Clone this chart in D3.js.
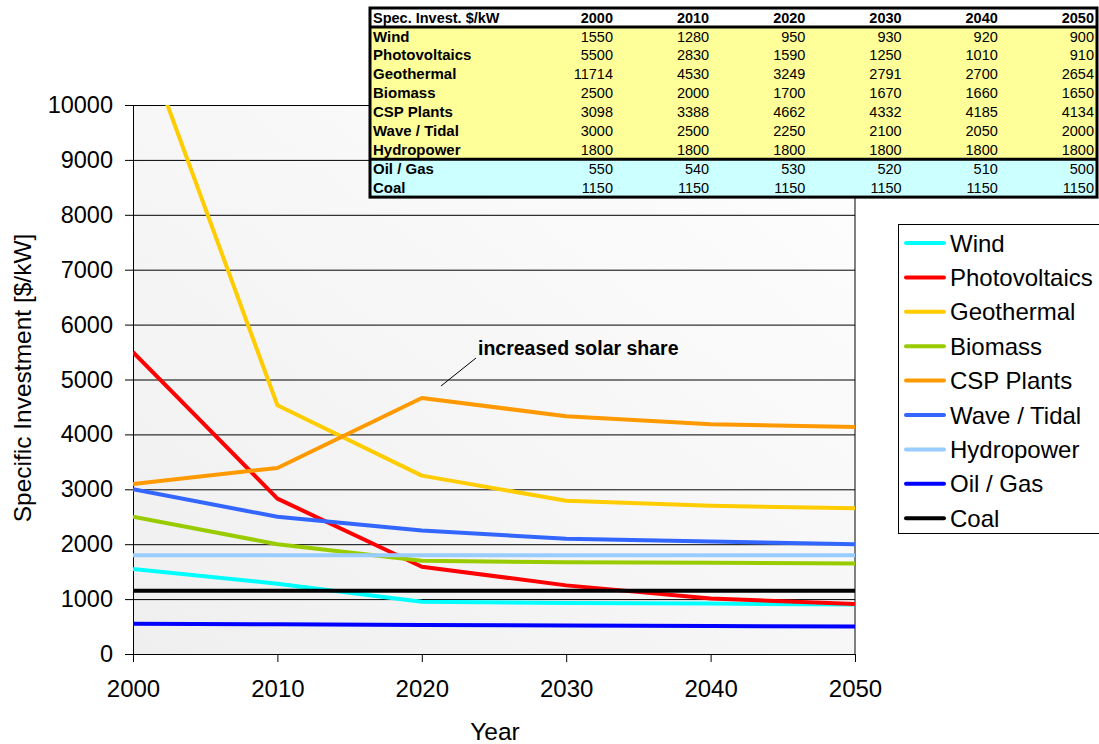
<!DOCTYPE html>
<html><head><meta charset="utf-8">
<script src="https://cdn.jsdelivr.net/npm/d3@7"></script>
<style>body{margin:0;background:#fff;}svg{display:block;font-family:Arial,"Liberation Sans",sans-serif;}</style>
</head><body><svg id="c" width="1099" height="744"></svg>
<script>
const years = [2000, 2010, 2020, 2030, 2040, 2050];
const seriesNames = ["Wind","Photovoltaics","Geothermal","Biomass","CSP Plants","Wave / Tidal","Hydropower","Oil / Gas","Coal"];
const wind = [1550,1280,950,930,920,900];
const photovoltaics = [5500,2830,1590,1250,1010,910];
const geothermal = [11714,4530,3249,2791,2700,2654];
const biomass = [2500,2000,1700,1670,1660,1650];
const csp = [3098,3388,4662,4332,4185,4134];
const waveTidal = [3000,2500,2250,2100,2050,2000];
const hydropower = [1800,1800,1800,1800,1800,1800];
const oilGas = [550,540,530,520,510,500];
const coal = [1150,1150,1150,1150,1150,1150];
const seriesValues = [wind,photovoltaics,geothermal,biomass,csp,waveTidal,hydropower,oilGas,coal];
const colors = ["#00ffff","#ff0000","#ffcc00","#99cc00","#ff9900","#3366ff","#99ccff","#0000ff","#000000"];
const yTicks = [0,1000,2000,3000,4000,5000,6000,7000,8000,9000,10000];
const renewableCount = 7;

const FONT = "Arial, 'Liberation Sans', sans-serif";
const svg = d3.select("#c");
const L=133,R=855,T=105,B=654;
const x = d3.scaleLinear().domain([2000,2050]).range([L,R]);
const y = d3.scaleLinear().domain([0,10000]).range([B,T]);

const defs = svg.append("defs");
const g = defs.append("linearGradient").attr("id","bg").attr("x1","0").attr("y1","1").attr("x2","1").attr("y2","0");
g.append("stop").attr("offset","0").attr("stop-color","#efefef");
g.append("stop").attr("offset","1").attr("stop-color","#fefefe");
defs.append("clipPath").attr("id","clip").append("rect").attr("x",L).attr("y",T).attr("width",R-L).attr("height",B-T);

svg.append("rect").attr("x",L).attr("y",T).attr("width",R-L).attr("height",B-T).attr("fill","url(#bg)");
svg.append("line").attr("x1",R).attr("x2",R).attr("y1",T).attr("y2",B).attr("stroke","#808080").attr("stroke-width",2);

// gridlines
svg.append("g").selectAll("line").data(yTicks.filter(d=>d>0)).join("line")
  .attr("x1",L).attr("x2",R).attr("y1",d=>y(d)+0.5).attr("y2",d=>y(d)+0.5)
  .attr("stroke","#000").attr("stroke-width",1);

// axes
const yAxis = d3.axisLeft(y).tickValues(yTicks).tickSize(8).tickPadding(12).tickFormat(d3.format("d"));
const ya = svg.append("g").attr("transform",`translate(${L},0)`).call(yAxis);
ya.attr("font-size",null).attr("font-family",null);
ya.selectAll("text").style("font-size","23.5px").attr("fill","#000").style("font-family",FONT);
ya.select(".domain").attr("stroke","#000");
const xAxis = d3.axisBottom(x).tickValues(years).tickSize(8).tickPadding(18).tickFormat(d3.format("d"));
const xa = svg.append("g").attr("transform",`translate(0,${B})`).call(xAxis);
xa.attr("font-size",null).attr("font-family",null);
xa.selectAll("text").style("font-size","24px").attr("fill","#000").style("font-family",FONT);
xa.select(".domain").attr("stroke","#000");

// lines
const line = d3.line().x((d,i)=>x(years[i])).y(d=>y(d));
svg.append("g").attr("clip-path","url(#clip)").selectAll("path").data(seriesValues).join("path")
  .attr("d",line).attr("fill","none").attr("stroke",(d,i)=>colors[i]).attr("stroke-width",4).attr("stroke-linejoin","round");

// axis titles
svg.append("text").attr("x",495).attr("y",740).attr("text-anchor","middle").style("font-size","24.5px").text("Year");
svg.append("text").attr("transform","translate(31,378) rotate(-90)").attr("text-anchor","middle").style("font-size","24.5px").text("Specific Investment [$/kW]");

// annotation
svg.append("line").attr("x1",476).attr("y1",358).attr("x2",441).attr("y2",386).attr("stroke","#000").attr("stroke-width",1);
svg.append("text").attr("x",478).attr("y",355).style("font-size","19.5px").attr("font-weight","bold").text("increased solar share");

// legend
const lg = svg.append("g");
lg.append("rect").attr("x",898.5).attr("y",224.5).attr("width",220).attr("height",309).attr("fill","#fff").attr("stroke","#000").attr("stroke-width",1);
const le = lg.selectAll("g").data(seriesNames).join("g").attr("transform",(d,i)=>`translate(0,${243+i*34.4})`);
le.append("line").attr("x1",906).attr("x2",944).attr("stroke",(d,i)=>colors[i]).attr("stroke-width",4).attr("stroke-linecap","round");
le.append("text").attr("x",950).attr("y",8.5).style("font-size","24px").text(d=>d);

// table
const tx=370, tw=727, rowH=18.9, headerH=19;
const tab = svg.append("g");
const colX = years.map((d,i)=>613+i*96.2);
tab.append("rect").attr("x",tx).attr("y",8).attr("width",tw).attr("height",headerH).attr("fill","#fff");
tab.append("rect").attr("x",tx).attr("y",8+headerH).attr("width",tw).attr("height",rowH*renewableCount).attr("fill","#ffff99");
tab.append("rect").attr("x",tx).attr("y",8+headerH+rowH*renewableCount).attr("width",tw).attr("height",rowH*2).attr("fill","#ccffff");
const hy = 8+headerH;
tab.append("text").attr("x",373).attr("y",22.5).style("font-size","14.5px").attr("font-weight","bold").text("Spec. Invest. $/kW");
tab.selectAll(".hd").data(years).join("text").attr("class","hd").attr("x",(d,i)=>colX[i]).attr("y",22.5)
  .attr("text-anchor","end").style("font-size","14.5px").attr("font-weight","bold").text(d=>d);
seriesNames.forEach((name,r)=>{
  const yy = hy + rowH*r + 14.5;
  tab.append("text").attr("x",373).attr("y",yy).style("font-size","15px").attr("font-weight","bold").text(name);
  tab.selectAll(null).data(seriesValues[r]).join("text").attr("x",(d,i)=>colX[i]).attr("y",yy)
    .attr("text-anchor","end").style("font-size","14.5px").text(d=>d);
});
tab.append("line").attr("x1",tx).attr("x2",tx+tw).attr("y1",hy).attr("y2",hy).attr("stroke","#000").attr("stroke-width",3);
tab.append("line").attr("x1",tx).attr("x2",tx+tw).attr("y1",hy+rowH*renewableCount).attr("y2",hy+rowH*renewableCount).attr("stroke","#000").attr("stroke-width",3);
tab.append("rect").attr("x",tx).attr("y",8).attr("width",tw).attr("height",headerH+rowH*9).attr("fill","none").attr("stroke","#000").attr("stroke-width",3);
</script></body></html>
